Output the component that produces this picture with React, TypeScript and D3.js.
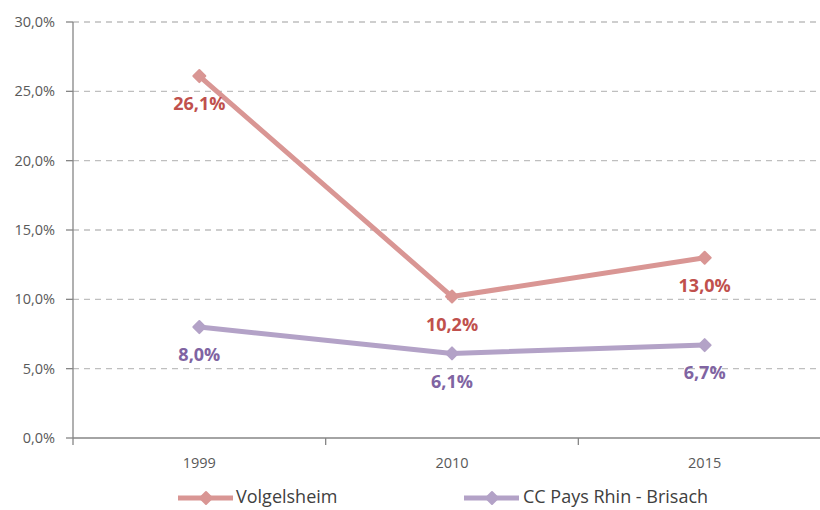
import React from "react";
import * as d3 from "d3";

const categories = ["1999", "2010", "2015"];
const volgelsheim = [26.1, 10.2, 13.0];
const ccPays = [8.0, 6.1, 6.7];
const yTicks = [0, 5, 10, 15, 20, 25, 30];
const seriesNames = ["Volgelsheim", "CC Pays Rhin - Brisach"];

const W = 820, H = 510;
const left = 73, right = 831, top = 22, bottom = 438;
const FONT = "'Open Sans', 'Noto Sans', sans-serif";

const series = [
  { name: seriesNames[0], values: volgelsheim, line: "#d99694", label: "#c0504d" },
  { name: seriesNames[1], values: ccPays, line: "#b3a2c7", label: "#8064a2" },
];

const fmt = (v: number) => v.toFixed(1).replace(".", ",") + "%";

function Diamond({ x, y, color, r = 6 }: { x: number; y: number; color: string; r?: number }) {
  return (
    <path
      d={`M${x},${y - r}L${x + r},${y}L${x},${y + r}L${x - r},${y}Z`}
      fill={color}
      stroke={color}
      strokeWidth={2}
      strokeLinejoin="round"
    />
  );
}

export default function App() {
  const x = d3.scaleBand<string>().domain(categories).range([left, right]);
  const y = d3.scaleLinear().domain([0, 30]).range([bottom, top]);
  const cx = (c: string) => (x(c) ?? 0) + x.bandwidth() / 2;
  const line = d3
    .line<number>()
    .x((_, i) => cx(categories[i]))
    .y((d) => y(d));
  const bandEdges = categories.map((c) => x(c) ?? 0);

  return (
    <svg width={W} height={H} style={{ position: "absolute", left: 0, top: 0 }}>
      <rect width={W} height={H} fill="#fff" />
      {yTicks.map((t) => (
        <g key={t}>
          {t > 0 && (
            <line x1={left} x2={W} y1={y(t)} y2={y(t)} stroke="#bfbfbf" strokeWidth={1.3} strokeDasharray="6,5" />
          )}
          <line x1={left - 7} x2={left} y1={y(t)} y2={y(t)} stroke="#868686" strokeWidth={1.3} />
          <text x={55} y={y(t)} dy="0.35em" textAnchor="end" fontFamily={FONT} fontSize={14.5} fill="#595959">
            {fmt(t)}
          </text>
        </g>
      ))}
      <line x1={left} x2={left} y1={top} y2={bottom} stroke="#868686" strokeWidth={1.3} />
      <line x1={left} x2={W} y1={bottom} y2={bottom} stroke="#868686" strokeWidth={1.3} />
      {bandEdges.map((bx, i) => (
        <line key={i} x1={bx} x2={bx} y1={bottom} y2={bottom + 7} stroke="#868686" strokeWidth={1.3} />
      ))}
      {categories.map((c) => (
        <text key={c} x={cx(c)} y={463} dy="0.35em" textAnchor="middle" fontFamily={FONT} fontSize={14.5} fill="#595959">
          {c}
        </text>
      ))}
      {series.map((s) => (
        <g key={s.name}>
          <path d={line(s.values) ?? ""} fill="none" stroke={s.line} strokeWidth={5} strokeLinejoin="round" />
          {s.values.map((v, i) => (
            <Diamond key={i} x={cx(categories[i])} y={y(v)} color={s.line} />
          ))}
          {s.values.map((v, i) => (
            <text
              key={"l" + i}
              x={cx(categories[i])}
              y={y(v) + 28}
              dy="0.35em"
              textAnchor="middle"
              fontFamily={FONT}
              fontWeight="bold"
              fontSize={18}
              fill={s.label}
            >
              {fmt(v)}
            </text>
          ))}
        </g>
      ))}
      {[
        { s: series[0], x0: 178, tx: 236 },
        { s: series[1], x0: 464, tx: 523 },
      ].map(({ s, x0, tx }) => (
        <g key={s.name}>
          <line x1={x0} x2={x0 + 55} y1={498} y2={498} stroke={s.line} strokeWidth={5} />
          <Diamond x={x0 + 28} y={498} color={s.line} />
          <text x={tx} y={497} dy="0.35em" fontFamily={FONT} fontSize={18} fill="#404040">
            {s.name}
          </text>
        </g>
      ))}
    </svg>
  );
}
